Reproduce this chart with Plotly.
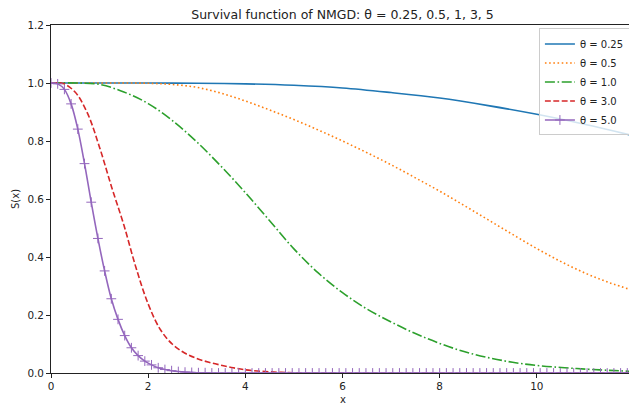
import plotly.graph_objects as go

# ---- data ----
X_BLUE = [0, 1, 2, 3, 4, 5, 6, 7, 8, 9, 10, 11, 12]
S_BLUE = [1.000, 1.000, 1.000, 0.999, 0.997, 0.992, 0.983, 0.967, 0.948, 0.922, 0.892, 0.857, 0.818]

X_HALF = [0, 0.5, 1, 1.5, 2, 2.5, 3, 3.5, 4, 4.5, 5, 5.5, 6, 6.5, 7, 7.5, 8, 8.5, 9, 9.5,
          10, 10.5, 11, 11.5, 12]
S_ORANGE = [1.000, 1.000, 1.000, 1.000, 0.999, 0.995, 0.985, 0.965, 0.938, 0.907, 0.874,
            0.838, 0.800, 0.760, 0.718, 0.673, 0.627, 0.578, 0.528, 0.478, 0.429, 0.384,
            0.344, 0.311, 0.284]
S_GREEN = [1.000, 1.000, 0.995, 0.969, 0.929, 0.870, 0.797, 0.713, 0.622, 0.525, 0.428,
           0.345, 0.277, 0.221, 0.176, 0.136, 0.102, 0.074, 0.053, 0.037, 0.026, 0.019,
           0.0135, 0.009, 0.0055]

X_RED = [0, 0.25, 0.5, 0.75, 1, 1.25, 1.5, 1.75, 2, 2.25, 2.5, 2.75, 3, 3.25, 3.5, 3.75,
         4, 4.25, 4.5, 4.75, 5, 5.5, 6, 7, 8, 9, 10, 11, 12]
S_RED = [1.000, 0.998, 0.968, 0.896, 0.778, 0.640, 0.510, 0.363, 0.238, 0.150, 0.099,
         0.069, 0.050, 0.037, 0.027, 0.018, 0.011, 0.007, 0.004, 0.002, 0.001, 0.0, 0.0,
         0.0, 0.0, 0.0, 0.0, 0.0, 0.0]

N_PURPLE = 88
X_PURPLE = [12 * k / (N_PURPLE - 1) for k in range(N_PURPLE)]
S_PURPLE = [1.000, 0.997, 0.978, 0.928, 0.841, 0.722, 0.589, 0.464, 0.352, 0.256, 0.185,
            0.129, 0.087, 0.060, 0.041, 0.028, 0.018, 0.012, 0.008, 0.005, 0.003, 0.002,
            0.001, 0.001,
            0.0, 0.0, 0.0, 0.0, 0.0, 0.0, 0.0, 0.0, 0.0, 0.0, 0.0, 0.0, 0.0, 0.0, 0.0, 0.0,
            0.0, 0.0, 0.0, 0.0, 0.0, 0.0, 0.0, 0.0, 0.0, 0.0, 0.0, 0.0, 0.0, 0.0, 0.0, 0.0,
            0.0, 0.0, 0.0, 0.0, 0.0, 0.0, 0.0, 0.0, 0.0, 0.0, 0.0, 0.0, 0.0, 0.0, 0.0, 0.0,
            0.0, 0.0, 0.0, 0.0, 0.0, 0.0, 0.0, 0.0, 0.0, 0.0, 0.0, 0.0, 0.0, 0.0, 0.0, 0.0]

LABELS = ["θ = 0.25", "θ = 0.5", "θ = 1.0", "θ = 3.0", "θ = 5.0"]
X_TICKS = [0, 2, 4, 6, 8, 10, 12]
Y_TICKS = [0.0, 0.2, 0.4, 0.6, 0.8, 1.0, 1.2]

TITLE = "Survival function of NMGD: θ = 0.25, 0.5, 1, 3, 5"
X_TITLE = "x"
Y_TITLE = "S(x)"

FONT = "DejaVu Sans"
TXT = "#222222"
LW = 1.6

fig = go.Figure()
fig.add_trace(go.Scatter(x=X_BLUE, y=S_BLUE, mode="lines", name=LABELS[0],
                         line=dict(color="#1f77b4", width=LW, shape="spline")))
fig.add_trace(go.Scatter(x=X_HALF, y=S_ORANGE, mode="lines", name=LABELS[1],
                         line=dict(color="#ff7f0e", width=LW, shape="spline",
                                   dash="1.6px,2.6px")))
fig.add_trace(go.Scatter(x=X_HALF, y=S_GREEN, mode="lines", name=LABELS[2],
                         line=dict(color="#2ca02c", width=LW, shape="spline",
                                   dash="10px,2.6px,1.6px,2.6px")))
fig.add_trace(go.Scatter(x=X_RED, y=S_RED, mode="lines", name=LABELS[3],
                         line=dict(color="#d62728", width=LW, shape="spline",
                                   dash="5.9px,2.5px")))
fig.add_trace(go.Scatter(x=X_PURPLE, y=S_PURPLE, mode="lines+markers", name=LABELS[4],
                         line=dict(color="#9467bd", width=LW, shape="spline"),
                         marker=dict(symbol="cross-thin", size=7, color="#9467bd",
                                     line=dict(width=1, color="#9467bd"))))

axis_common = dict(showgrid=False, zeroline=False, showline=True, mirror=True,
                   linecolor=TXT, linewidth=1, ticks="outside", ticklen=4,
                   tickwidth=1, tickcolor=TXT, automargin=False,
                   tickfont=dict(family=FONT, size=10.4, color=TXT))

fig.update_layout(
    width=640, height=405,
    margin=dict(l=51, r=6, t=25, b=32),
    paper_bgcolor="white", plot_bgcolor="white",
    font=dict(family=FONT, size=10, color=TXT),
    title=dict(text=TITLE, x=0.5, xref="paper", xanchor="center",
               y=1 - 15 / 405, yanchor="middle",
               font=dict(family=FONT, size=12.5, color=TXT)),
    xaxis=dict(range=[0, 12], tickvals=X_TICKS, ticktext=[str(v) for v in X_TICKS],
               **axis_common),
    yaxis=dict(range=[0, 1.2], tickvals=Y_TICKS, ticktext=[f"{v:.1f}" for v in Y_TICKS],
               **axis_common),
    legend=dict(x=0.993, y=0.99, xanchor="right", yanchor="top",
                bgcolor="rgba(255,255,255,0.8)", bordercolor="#cccccc", borderwidth=1,
                font=dict(family=FONT, size=10, color=TXT),
                tracegroupgap=0),
    showlegend=True,
    annotations=[
        dict(text=X_TITLE, xref="paper", yref="paper", x=0.5, y=-26 / 348,
             xanchor="center", yanchor="middle", showarrow=False,
             font=dict(family=FONT, size=10, color=TXT)),
        dict(text=Y_TITLE, xref="paper", yref="paper", x=-36 / 583, y=0.5,
             xanchor="center", yanchor="middle", textangle=-90, showarrow=False,
             font=dict(family=FONT, size=10, color=TXT)),
    ],
)

fig.write_html("out.html", config={"displayModeBar": False},
               post_script="document.documentElement.style.overflow='hidden';"
                           "document.body.style.overflow='hidden';")
